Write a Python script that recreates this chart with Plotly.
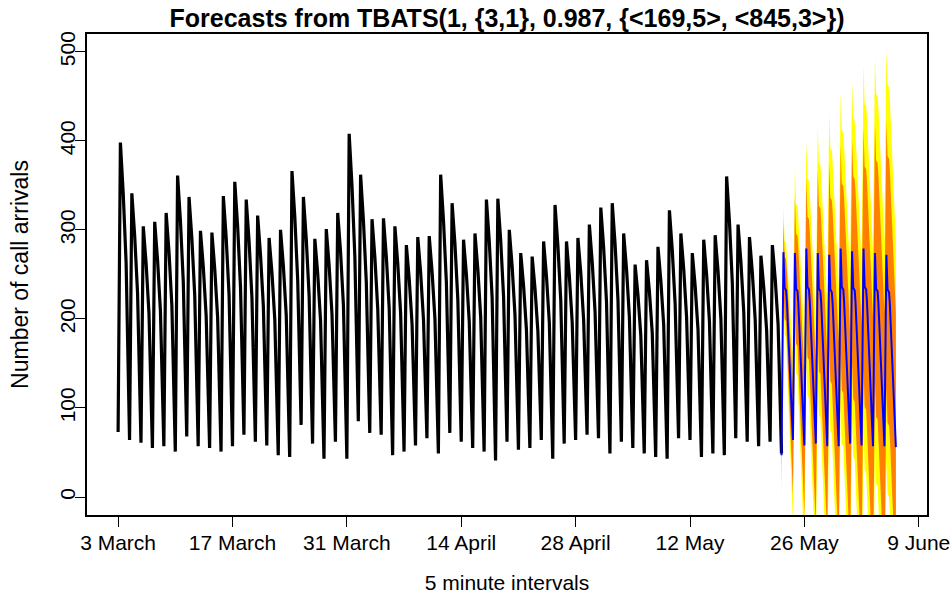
import plotly.graph_objects as go

# ---------------- data ----------------
tick_days = [0, 10, 20, 30, 40, 50, 60, 70]
tick_labels = ["3 March", "17 March", "31 March", "14 April", "28 April",
               "12 May", "26 May", "9 June"]

# observed: one entry per weekday (58 days); lows are the 59 day boundaries
obs_peak = [398, 341, 304, 309, 319, 361, 337, 299, 297, 338, 354, 334, 316, 291,
            300, 366, 337, 290, 301, 319, 408, 362, 312, 313, 304, 283, 292, 293,
            362, 330, 289, 296, 334, 335, 300, 274, 270, 287, 328, 287, 291, 306,
            325, 330, 296, 261, 266, 281, 322, 296, 274, 289, 294, 360, 306, 292,
            271, 283]
obs_shoulder1 = [340, 293, 262, 266, 275, 310, 290, 258, 256, 291, 304, 287, 272, 252,
                 259, 314, 290, 251, 260, 275, 349, 310, 269, 270, 262, 245, 252, 253,
                 310, 284, 250, 256, 287, 288, 259, 237, 234, 248, 282, 248, 252, 264,
                 280, 284, 256, 227, 231, 243, 277, 256, 237, 250, 254, 309, 264, 252,
                 235, 245]
obs_shoulder2 = [263, 229, 206, 209, 215, 241, 226, 203, 202, 227, 236, 224, 214, 199,
                 204, 244, 226, 198, 205, 215, 269, 241, 211, 212, 206, 194, 199, 200,
                 241, 222, 197, 202, 224, 225, 204, 188, 186, 196, 221, 196, 199, 208,
                 219, 222, 202, 181, 184, 193, 217, 202, 188, 197, 200, 240, 208, 199,
                 187, 194]
obs_low = [73, 64, 61, 55, 57, 51, 68, 57, 55, 51, 57, 70, 62, 58, 47, 45, 81, 60,
           43, 62, 43, 85, 72, 70, 47, 51, 58, 66, 49, 72, 62, 55, 51, 41, 62, 53,
           55, 64, 43, 60, 64, 70, 66, 49, 62, 55, 49, 45, 43, 66, 64, 45, 49, 47,
           66, 62, 57, 62, 49]

# forecast: 10 days
fc_low = [47, 64, 58, 60, 57, 57, 60, 58, 57, 57, 56]
fc_peak = [275, 274, 279, 274, 272, 279, 276, 279, 274, 272]
fc_s1 = [235, 234, 236, 234, 233, 236, 235, 236, 234, 233]
fc_s2 = [232, 231, 233, 231, 230, 233, 232, 233, 231, 230]
fc_s3 = [219, 218, 220, 218, 217, 220, 219, 220, 218, 217]
fc_up80_peak = [310, 336, 358, 367, 375, 395, 401, 414, 418, 422]
fc_up95_peak = [328, 369, 401, 416, 431, 455, 466, 485, 493, 502]

# ---------------- build traces ----------------
OBS_FRAC = [0.0, 0.2, 0.45, 0.7]
ox, oy = [], []
for d in range(len(obs_peak)):
    vals = [obs_low[d], obs_peak[d], obs_shoulder1[d], obs_shoulder2[d]]
    for f, v in zip(OBS_FRAC, vals):
        ox.append(d + f)
        oy.append(v)
ox.append(len(obs_peak))
oy.append(obs_low[-1])

start = len(obs_peak)
FC_FRAC = [0.0, 0.17, 0.27, 0.40, 0.47]
fx, fy, h80, h95 = [], [], [], []
for d in range(len(fc_peak)):
    w80 = fc_up80_peak[d] - fc_peak[d]
    w95 = fc_up95_peak[d] - fc_peak[d]
    vals = [fc_low[d], fc_peak[d], fc_s1[d], fc_s2[d], fc_s3[d]]
    for f, v in zip(FC_FRAC, vals):
        fx.append(start + d + f)
        fy.append(v)
        h80.append(w80)
        h95.append(w95)
fx.append(start + len(fc_peak))
fy.append(fc_low[-1])
h80.append(h80[-1])
h95.append(h95[-1])


def band(hw):
    up = [m + h for m, h in zip(fy, hw)]
    lo = [m - h for m, h in zip(fy, hw)]
    return fx + fx[::-1], up + lo[::-1]


fig = go.Figure()
bx, by = band(h95)
fig.add_trace(go.Scatter(x=bx, y=by, fill="toself", fillcolor="#FFFF00",
                         line=dict(width=0), mode="lines", hoverinfo="skip",
                         showlegend=False))
bx, by = band(h80)
fig.add_trace(go.Scatter(x=bx, y=by, fill="toself", fillcolor="#FF8000",
                         line=dict(width=0), mode="lines", hoverinfo="skip",
                         showlegend=False))
fig.add_trace(go.Scatter(x=ox, y=oy, mode="lines",
                         line=dict(color="black", width=3.2), showlegend=False))
fig.add_trace(go.Scatter(x=fx, y=fy, mode="lines",
                         line=dict(color="#0000FF", width=2), showlegend=False))

FONT = "Liberation Sans, Arial, Helvetica, sans-serif"
axis_common = dict(showgrid=False, zeroline=False, showline=True, mirror=True,
                   linecolor="black", linewidth=1.5, ticks="outside", ticklen=10,
                   tickwidth=1.3, tickcolor="black", automargin=False,
                   tickfont=dict(family=FONT, size=21, color="black"))

fig.update_layout(
    width=952, height=598,
    margin=dict(l=87, r=25, t=34, b=83, autoexpand=False),
    paper_bgcolor="white", plot_bgcolor="white",
    title=dict(text="Forecasts from TBATS(1, {3,1}, 0.987, {<169,5>, <845,3>})",
               x=0.5, xref="paper", y=1 - 18 / 598, yref="container",
               xanchor="center", yanchor="middle",
               font=dict(family=FONT, size=25, color="black", weight="bold")),
    xaxis=dict(range=[-2.72, 70.72], tickmode="array", tickvals=tick_days,
               ticktext=tick_labels, ticklabelstandoff=-2,
               title=dict(text="5 minute intervals", standoff=22,
                          font=dict(family=FONT, size=21, color="black")),
               **axis_common),
    yaxis=dict(range=[-20.2, 520], tickmode="array",
               tickvals=[0, 100, 200, 300, 400, 500], tickangle=-90,
               ticklabelstandoff=-8,
               title=dict(text="Number of call arrivals", standoff=21,
                          font=dict(family=FONT, size=23, color="black")),
               **axis_common),
)

fig.write_html("out.html", config={"displayModeBar": False},
               post_script="document.body.style.margin='0';"
                           "document.body.style.overflow='hidden';")
